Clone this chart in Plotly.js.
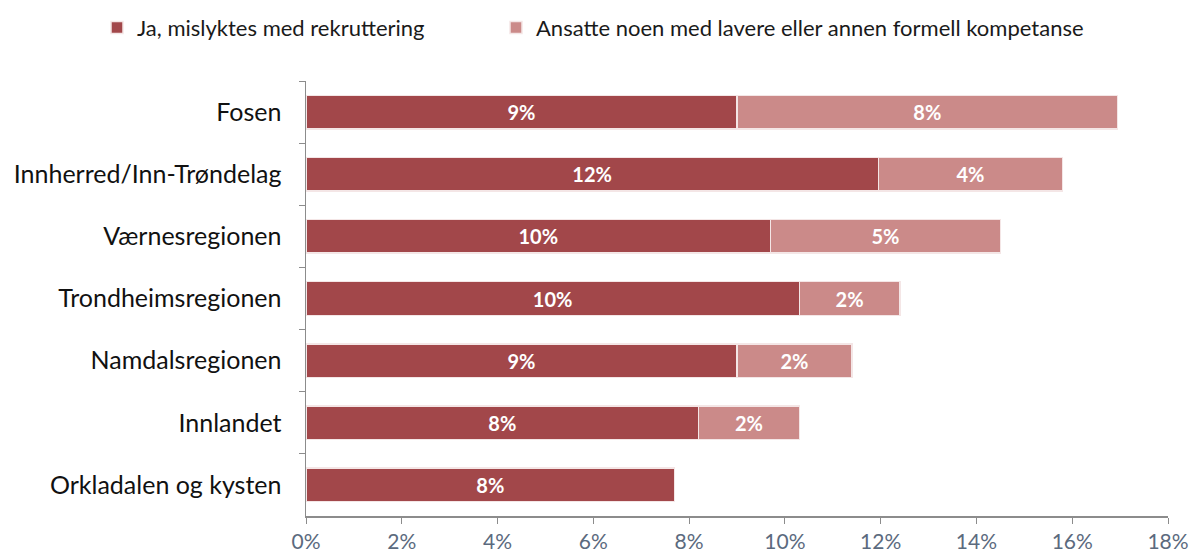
<!DOCTYPE html>
<html>
<head>
<meta charset="utf-8">
<script src="https://cdn.plot.ly/plotly-3.0.1.min.js"></script>
<style>html,body{margin:0;padding:0;background:#fff;}#chart{width:1194px;height:554px;}</style>
</head>
<body>
<div id="chart"></div>
<script>
const regions = ["Fosen","Innherred/Inn-Trøndelag","Værnesregionen","Trondheimsregionen","Namdalsregionen","Innlandet","Orkladalen og kysten"];
const failedRecruit = [9.0, 11.95, 9.7, 10.3, 9.0, 8.2, 7.7];
const lowerCompetence = [7.95, 3.85, 4.8, 2.1, 2.4, 2.1, null];
const seriesNames = ["Ja, mislyktes med rekruttering","Ansatte noen med lavere eller annen formell kompetanse"];
const xTickVals = [0,2,4,6,8,10,12,14,16,18];
const xTickText = ["0%","2%","4%","6%","8%","10%","12%","14%","16%","18%"];

const FONT = "Lato, 'Open Sans', sans-serif";
const common = {
  type: "bar", orientation: "h", y: regions,
  texttemplate: "%{x:.0f}%", textposition: "inside", insidetextanchor: "middle",
  textfont: {family: FONT, size: 20, color: "#ffffff", weight: "bold"},
  hoverinfo: "skip", cliponaxis: false
};
const traces = [
  Object.assign({}, common, {x: failedRecruit, name: seriesNames[0], legend: "legend",
    marker: {color: "#A2474A", line: {color: "#f4e6e6", width: 1.5}}}),
  Object.assign({}, common, {x: lowerCompetence, name: seriesNames[1], legend: "legend2",
    marker: {color: "#CB8A89", line: {color: "#f4e6e6", width: 1.5}}})
];

const legendBase = {
  orientation: "h", xref: "container", yref: "container",
  y: 0.95, xanchor: "left", yanchor: "middle",
  font: {family: FONT, size: 22, color: "#1a1a1a"},
  bgcolor: "rgba(0,0,0,0)"
};

const layout = {
  width: 1194, height: 554,
  margin: {l: 306, r: 26, t: 81, b: 38},
  paper_bgcolor: "#ffffff", plot_bgcolor: "#ffffff",
  barmode: "stack", bargap: 0.46,
  font: {family: FONT, color: "#1a1a1a"},
  showlegend: true,
  legend: Object.assign({}, legendBase, {x: 97 / 1194}),
  legend2: Object.assign({}, legendBase, {x: 496 / 1194}),
  xaxis: {
    range: [0, 18], tickmode: "array", tickvals: xTickVals, ticktext: xTickText,
    showgrid: false, zeroline: false,
    showline: true, linecolor: "#8c8c8c", linewidth: 1.5,
    ticks: "outside", ticklen: 6, tickcolor: "#8c8c8c",
    tickfont: {family: FONT, size: 21, color: "#5b6a7e"},
    fixedrange: true
  },
  yaxis: {
    autorange: "reversed", type: "category",
    showgrid: false, zeroline: false,
    showline: true, linecolor: "#8c8c8c", linewidth: 1.5,
    ticks: "outside", ticklen: 6, tickcolor: "#8c8c8c", tickson: "boundaries",
    tickfont: {family: FONT, size: 25, color: "#111111"},
    ticklabelstandoff: 18,
    fixedrange: true
  }
};
Plotly.newPlot("chart", traces, layout, {displayModeBar: false, staticPlot: true});
</script>
</body>
</html>
